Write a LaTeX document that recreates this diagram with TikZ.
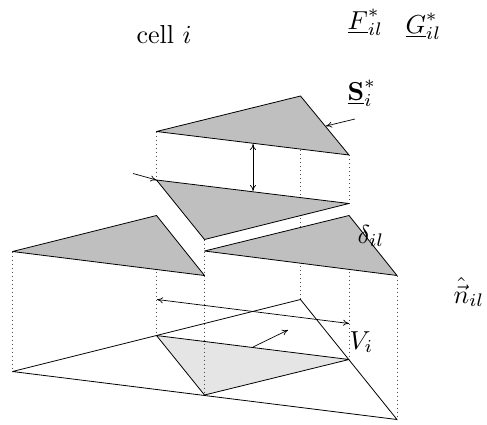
\documentclass[tikz,border=0pt]{standalone}
\usepackage{amsmath}
\usetikzlibrary{arrows.meta}
\tikzset{
  tri/.style={draw=black,line width=0.8pt,line join=round},
  shaded/.style={tri,fill=black!25},
  lightshaded/.style={tri,fill=black!10},
  dots/.style={draw=black!70,line width=0.7pt,dash pattern=on 0.8pt off 3.2pt},
  arr/.style={draw=black,line width=0.7pt,-{Computer Modern Rightarrow[length=6pt,width=6pt]}},
  dbl/.style={draw=black,line width=0.7pt,{Computer Modern Rightarrow[length=6pt,width=6pt]}-{Computer Modern Rightarrow[length=6pt,width=6pt]}},
  lab/.style={inner sep=0pt,scale=2.6,transform shape}
}
\begin{document}
\begin{tikzpicture}[x=1pt,y=-1pt]
\useasboundingbox (0,0) rectangle (487,424);
% vertices
\coordinate (ta) at (156.5,131.5); \coordinate (tb) at (300.5,96); \coordinate (tc) at (349,155);
\coordinate (ma) at (156.5,180); \coordinate (mb) at (349,203.5); \coordinate (mc) at (204.5,239.5);
\coordinate (la) at (12.5,251.5); \coordinate (lb) at (156.5,215.5); \coordinate (lc) at (204.5,275.5);
\coordinate (ra) at (204.5,251); \coordinate (rb) at (349,215.5); \coordinate (rc) at (397,275.5);
\coordinate (ba) at (12.5,371.5); \coordinate (bb) at (300.5,299.5); \coordinate (bc) at (397,419.5);
\coordinate (ia) at (156.5,335.5); \coordinate (ib) at (349,359.5); \coordinate (ic) at (204.5,395);
\coordinate (tx) at (300.5,150);
% dotted
\draw[dots] (ta)--(ma);
\draw[dots] (lb)--(ia);
\draw[dots] (la)--(ba);
\draw[dots] (mc)--(ic);
\draw[dots] (tx)--(bb);
\draw[dots] (tc)--(mb);
\draw[dots] (rb)--(ib);
\draw[dots] (rc)--(bc);
% triangles
\draw[shaded] (ta)--(tb)--(tc)--cycle;
\draw[shaded] (ma)--(mb)--(mc)--cycle;
\draw[shaded] (la)--(lb)--(lc)--cycle;
\draw[shaded] (ra)--(rb)--(rc)--cycle;
\draw[tri] (ba)--(bb)--(bc)--cycle;
\draw[lightshaded] (ia)--(ib)--(ic)--cycle;
\draw[dots] (mc)--(ic);
% arrows
\coordinate (d1) at (253,144); \coordinate (d2) at (253,191);
\draw[dbl] (d1)--(d2);
\coordinate (s1) at (355,119); \coordinate (s2) at (326,126);
\draw[arr] (s1)--(s2);
\coordinate (f1) at (133,173.5);
\draw[arr] (f1)--(ma);
\coordinate (w1) at (157,299.5); \coordinate (w2) at (349,323.5);
\draw[dbl] (w1)--(w2);
\coordinate (n1) at (253,347); \coordinate (n2) at (288,330);
\draw[arr] (n1)--(n2);
% labels
\node[lab,anchor=base west] (cell) at (136,43) {cell $i$};
\node[lab,anchor=base west] (F) at (347,29) {$\underline{F}^*_{il}$};
\node[lab,anchor=base west] (G) at (405,33) {$\underline{G}^*_{il}$};
\node[lab,anchor=base west] (S) at (347,100) {$\underline{\mathbf{S}}^*_i$};
\node[lab,anchor=base west] (delta) at (357,243) {$\delta_{il}$};
\node[lab,anchor=base west] (V) at (349,349) {$V_i$};
\node[lab,anchor=base west] (n) at (453,303) {$\hat{\vec{n}}_{il}$};
\end{tikzpicture}
\end{document}
